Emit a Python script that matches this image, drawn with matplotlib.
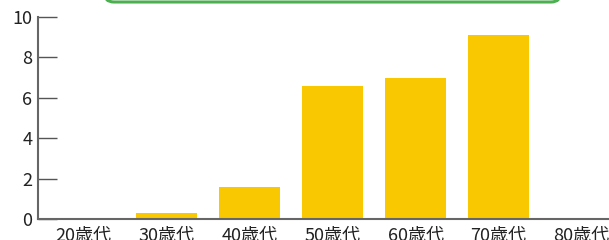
import matplotlib
matplotlib.use('Agg')
import matplotlib.pyplot as plt
from matplotlib.patches import FancyBboxPatch

plt.rcParams['font.family'] = ['Noto Sans CJK JP', 'DejaVu Sans']

categories = ['20歳代', '30歳代', '40歳代', '50歳代', '60歳代', '70歳代', '80歳代']
values = [0, 0.3, 1.6, 6.6, 7.0, 9.1, 0]
yticks = [0, 2, 4, 6, 8, 10]

fig = plt.figure(figsize=(6.09, 2.40), dpi=100)
ax = fig.add_axes([38 / 609, 1 - 219 / 240, 1 - 38 / 609, (219 - 17) / 240])

x = list(range(len(categories)))
ax.bar(x, values, width=0.735, color='#fac800', zorder=2)

ax.set_xlim(-0.55, 6.33)
ax.set_ylim(0, 10)
ax.set_xticks(x)
ax.set_xticklabels(categories, fontsize=13, color='#222222')
ax.set_yticks(yticks)
ax.set_yticklabels([str(v) for v in yticks], fontsize=13, color='#222222')
ax.tick_params(axis='x', length=0, pad=6)
ax.tick_params(axis='y', direction='in', length=14, width=1, color='#555555', pad=4)

for side in ['top', 'right']:
    ax.spines[side].set_visible(False)
for side in ['left', 'bottom']:
    ax.spines[side].set_color('#666666')
    ax.spines[side].set_linewidth(1.5)

# green frame peeking in at the top (pixel coords)
box = FancyBboxPatch((104, 238), 457, 40, boxstyle='round,pad=0,rounding_size=10',
                     transform=None, facecolor='white', edgecolor='#4caf50', linewidth=2.2)
fig.add_artist(box)

fig.savefig('out.png', dpi=100)
